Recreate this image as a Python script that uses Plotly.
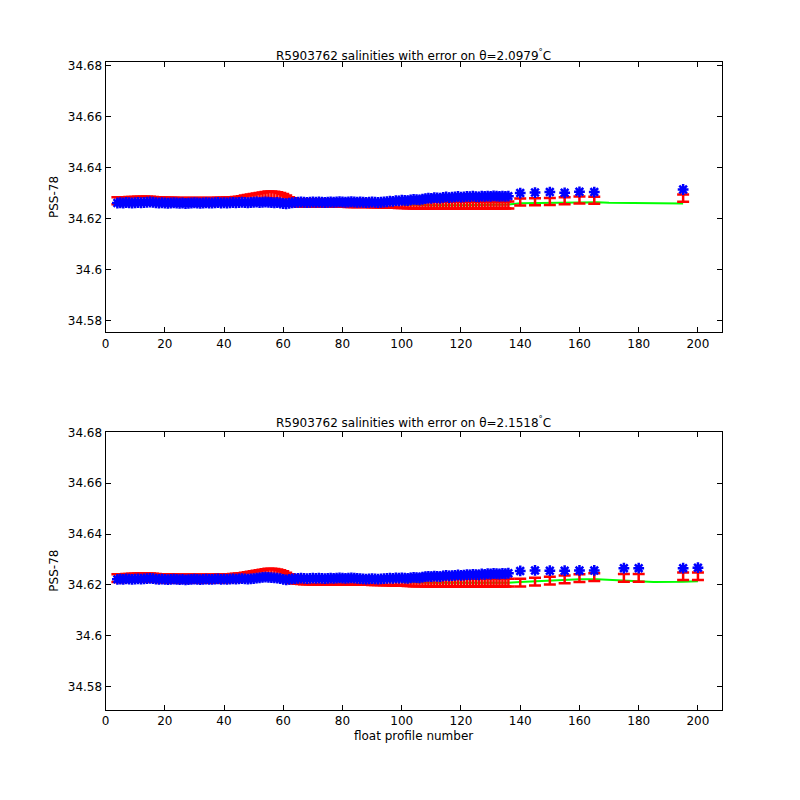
import plotly.graph_objects as go

BASE = 34.62
profiles = list(range(4, 137))
top_extra_x = [140, 145, 150, 155, 160, 165, 195]
bot_extra_x = [140, 145, 150, 155, 160, 165, 175, 180, 195, 200]

# values in units of 1e-4 above 34.62
top_blue = [61,62,61,63,62,61,62,63,62,63, 64,65,64,62,61,62,61,60,61,62,
            61,60,61,59,60,61,62,61,60,61, 62,61,61,62,63,61,62,61,62,63,
            62,63,64,63,62,63,64,65,63,64, 65,64,63,62,63,61,59,58,60,62,
            63,64,65,64,63,64,65,64,65,64, 63,64,65,64,65,66,65,64,65,66,
            65,64,65,64,63,64,65,64,63,64, 65,66,68,67,70,69,72,71,70,73,
            75,74,73,76,78,80,79,82,81,80, 83,85,82,84,85,87,84,85,87,86,
            88,86,85,88,87,88,87,89,88,87, 88,87,88]
top_blue_extra = [100, 102, 104, 101, 105, 104, 114]
top_red = [70,70,70,70,71,71,71,72,72,72, 72,72,71,70,69,69,68,68,68,68,
           67,67,67,67,67,67,67,67,67,67, 67,67,67,67,68,68,68,69,69,70,
           71,72,74,76,78,80,82,84,86,88, 90,92,92,91,89,86,82,76,70,66,
           63,62,61,61,61,60,60,60,60,60, 60,60,60,60,60,60,60,60,59,59,
           59,59,59,59,59,59,58,58,58,58, 57,57,57,56,56,55,55,55,54,54,
           53,53,53,52,52,52,52,52,52,52, 52,52,52,52,52,52,52,52,52,52,
           52,52,52,52,53,53,53,53,53,53, 53,53,53]
top_red_extra = [65, 66, 67, 70, 73, 72, 80]
top_green_x = [100, 110, 120, 130, 136, 140, 145, 150, 155, 160, 166, 170, 175, 183, 190, 195]
top_green = [55, 52, 52, 53, 55, 60, 61, 62, 63, 64, 64, 62, 61, 59, 59, 59]

bot_blue = [22,23,22,24,23,22,23,24,23,24, 25,26,25,23,22,23,22,21,22,23,
            22,21,22,20,21,22,23,22,21,22, 23,22,22,23,24,22,23,22,23,24,
            23,24,25,24,23,24,25,27,28,30, 31,30,29,28,27,25,22,20,22,24,
            25,26,27,26,25,26,27,26,27,26, 25,26,27,26,27,28,27,26,27,28,
            27,26,25,24,23,24,25,24,23,24, 25,26,27,26,28,27,28,27,26,28,
            30,29,28,31,33,34,33,35,34,33, 36,38,36,37,38,40,38,39,41,40,
            42,41,40,43,42,44,43,45,44,43, 45,44,46]
bot_blue_extra = [55, 57, 56, 56, 57, 57, 66, 66, 66, 68]
bot_red = [27,27,27,28,28,29,29,30,30,30, 30,30,29,28,27,26,26,26,26,26,
           25,25,25,25,25,25,25,25,25,25, 25,25,25,25,26,26,26,27,27,28,
           29,30,31,33,35,37,39,41,43,45, 47,49,49,48,46,43,39,33,27,23,
           21,20,19,18,18,18,17,17,17,17, 17,17,17,16,16,16,16,16,16,16,
           16,16,16,16,16,16,15,15,15,15, 14,14,14,13,13,12,12,12,11,11,
           10,10,10,10,9,9,9,9,9,9, 9,9,9,9,9,9,9,9,9,9,
           9,9,9,9,9,9,9,9,9,9, 9,9,9]
bot_red_extra = [9, 13, 17, 22, 27, 31, 28, 28, 34, 34]
bot_green_x = [100, 110, 120, 130, 136, 140, 150, 160, 166, 170, 178, 185, 195, 200]
bot_green = [12, 9, 9, 9, 9, 12, 17, 22, 22, 20, 17, 12, 13, 15]

err_top = 0.0014
err_bot = 0.0015

titles = ["R5903762 salinities with error on θ=2.0979<sup>°</sup>C",
          "R5903762 salinities with error on θ=2.1518<sup>°</sup>C"]

def sal(v):
    return [BASE + x * 1e-4 for x in v]

XD = [0.1175, 0.8915]
fig = go.Figure()
panels = [
    (profiles + top_extra_x, top_blue + top_blue_extra, top_red + top_red_extra, top_green_x, top_green, err_top, "", [34.5753, 34.6816], [0.599, 0.94], titles[0]),
    (profiles + bot_extra_x, bot_blue + bot_blue_extra, bot_red + bot_red_extra, bot_green_x, bot_green, err_bot, "2", [34.571, 34.6803], [0.124, 0.474], titles[1]),
]
layout = {}
for px, blue, red, gx, gv, err, s, yr, dom, ttl in panels:
    xa, ya = "x" + s, "y" + s
    fig.add_trace(go.Scatter(x=gx, y=sal(gv), mode="lines", line=dict(color="#00ff00", width=2),
                             xaxis=xa, yaxis=ya, showlegend=False))
    fig.add_trace(go.Scatter(x=px, y=sal(red), mode="markers", marker=dict(size=1, color="red", opacity=0),
                             error_y=dict(type="constant", value=err, color="red", thickness=2.5, width=6),
                             xaxis=xa, yaxis=ya, showlegend=False))
    fig.add_trace(go.Scatter(x=px, y=sal(blue), mode="markers",
                             marker=dict(symbol="asterisk-open", size=9, color="blue", line=dict(color="blue", width=2.5)),
                             xaxis=xa, yaxis=ya, showlegend=False))
    axcommon = dict(showline=True, linecolor="black", linewidth=1, mirror="ticks", ticks="inside",
                    ticklen=5, tickcolor="black", showgrid=False, zeroline=False,
                    tickfont=dict(size=12, color="black"))
    layout["xaxis" + s] = dict(range=[0, 208], domain=XD, anchor=ya, tick0=0, dtick=20, **axcommon)
    layout["yaxis" + s] = dict(range=yr, domain=dom, anchor=xa, tickvals=[34.58, 34.6, 34.62, 34.64, 34.66, 34.68],
                               ticktext=["34.58", "34.6", "34.62", "34.64", "34.66", "34.68"],
                               title=dict(text="PSS-78", font=dict(size=12), standoff=6), **axcommon)
fig.update_layout(**layout)
fig.layout.xaxis2.title = dict(text="float profile number", font=dict(size=12), standoff=4)
xc = (XD[0] + XD[1]) / 2
fig.add_annotation(text=titles[0], x=xc, y=1 - 31 / 800, xref="paper", yref="paper", showarrow=False,
                   font=dict(size=12, color="black"))
fig.add_annotation(text=titles[1], x=xc, y=1 - 411 / 800, xref="paper", yref="paper", showarrow=False,
                   font=dict(size=12, color="black"))
fig.update_layout(width=800, height=800, margin=dict(l=0, r=0, t=0, b=0), plot_bgcolor="white",
                  paper_bgcolor="white", font=dict(family="DejaVu Sans", color="black"))
fig.write_html("out.html")
